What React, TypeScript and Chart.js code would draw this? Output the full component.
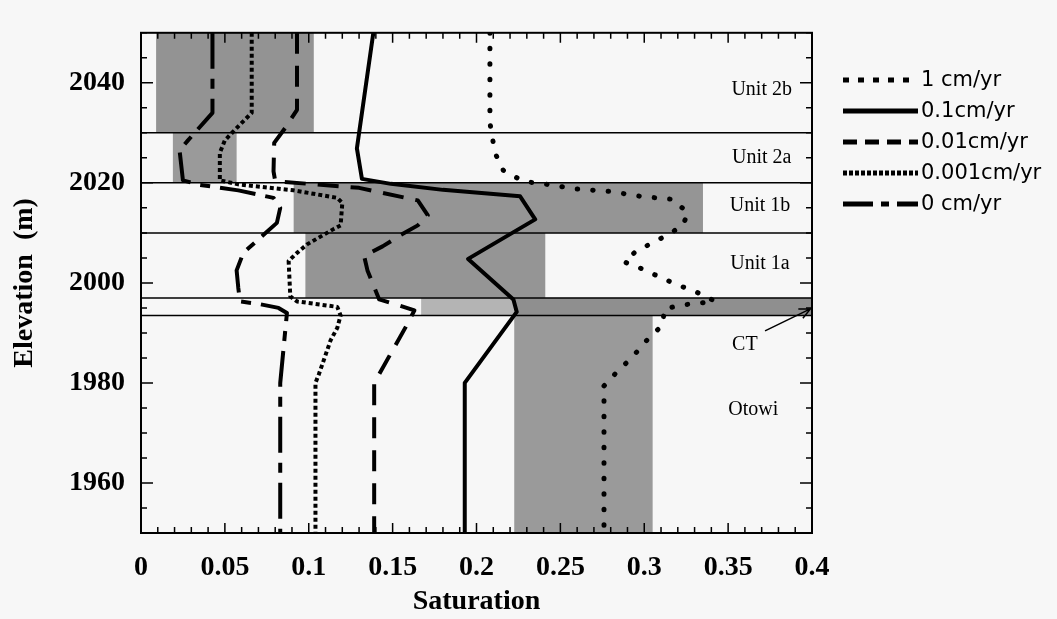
import React, { useEffect, useRef } from 'react';
import { Chart, registerables } from 'chart.js';
Chart.register(...registerables);

// ---------- data ----------
const seriesNames = ['1 cm/yr', '0.1cm/yr', '0.01cm/yr', '0.001cm/yr', '0 cm/yr'];

const sat1 = [0.208, 0.208, 0.211, 0.216, 0.222, 0.23, 0.24, 0.259, 0.279, 0.298, 0.317, 0.326, 0.323, 0.314, 0.303, 0.294, 0.288, 0.298, 0.317, 0.336, 0.342, 0.323, 0.312, 0.311, 0.302, 0.293, 0.284, 0.276, 0.276];
const elev1 = [2050, 2032, 2026, 2022.5, 2021.3, 2020.2, 2019.8, 2018.8, 2018.3, 2017.3, 2016.7, 2014, 2011.5, 2009.6, 2007.7, 2006, 2004.2, 2002.9, 2000, 1997.5, 1996.3, 1995.6, 1994.8, 1991.6, 1988.7, 1985.2, 1982.3, 1979.4, 1950];

const sat2 = [0.1385, 0.1287, 0.1317, 0.149, 0.18, 0.226, 0.235, 0.195, 0.222, 0.224, 0.193, 0.193];
const elev2 = [2050, 2026.9, 2020.8, 2019.8, 2018.6, 2017.3, 2012.7, 2004.8, 1996.7, 1994.2, 1980, 1950];

const sat3 = [0.093, 0.093, 0.086, 0.0794, 0.079, 0.08, 0.085, 0.13, 0.165, 0.171, 0.165, 0.155, 0.144, 0.133, 0.135, 0.138, 0.142, 0.151, 0.163, 0.1585, 0.139, 0.139];
const elev3 = [2050, 2034.6, 2031, 2028, 2022.3, 2020.4, 2020.2, 2019, 2016.5, 2013.5, 2011.5, 2009.6, 2007.3, 2005.4, 2002.5, 2000, 1996.7, 1995.8, 1994.5, 1991.6, 1980, 1950];

const sat4 = [0.066, 0.066, 0.058, 0.05, 0.047, 0.047, 0.058, 0.091, 0.117, 0.12, 0.119, 0.115, 0.099, 0.093, 0.088, 0.089, 0.093, 0.117, 0.119, 0.117, 0.113, 0.109, 0.106, 0.104, 0.104];
const elev4 = [2050, 2034, 2031.3, 2028.5, 2026, 2020.5, 2019.7, 2018.5, 2017, 2016, 2011.5, 2010.8, 2007.7, 2006, 2004.4, 1997.3, 1996.3, 1995.2, 1993.5, 1991, 1988.5, 1984.6, 1981.7, 1980, 1950];

const sat5 = [0.0426, 0.0426, 0.028, 0.023, 0.025, 0.035, 0.058, 0.079, 0.083, 0.081, 0.061, 0.057, 0.058, 0.059, 0.07, 0.082, 0.087, 0.083, 0.083];
const elev5 = [2050, 2034, 2028.5, 2026.5, 2020.5, 2019.6, 2018.5, 2017, 2015, 2012, 2006, 2002.5, 1999, 1996.3, 1995.8, 1995, 1994, 1980, 1950];

// shaded measured-saturation ranges per unit (last one is the lighter part of the CT band)
const bandSatMin = [0.009, 0.019, 0.091, 0.098, 0.2225, 0.2225, 0.167];
const bandSatMax = [0.103, 0.057, 0.335, 0.241, 0.4, 0.305, 0.2225];
const bandElevTop = [2050, 2030, 2020, 2010, 1997, 1993.5, 1997];
const bandElevBottom = [2030, 2020, 2010, 1997, 1993.5, 1950, 1993.5];
const bandShade = ['#939393', '#9a9a9a', '#959595', '#959595', '#8f8f8f', '#9a9a9a', '#b4b4b4'];

const boundaryElev = [2030, 2020, 2010, 1997, 1993.5];

const unitLabels = ['Unit 2b', 'Unit 2a', 'Unit 1b', 'Unit 1a', 'CT', 'Otowi'];
const unitLabelSat = [0.370, 0.370, 0.369, 0.369, 0.360, 0.365];
const unitLabelElev = [2038.7, 2025, 2015.4, 2003.8, 1987.7, 1974.6];
const ctArrowSat = [0.372, 0.399];
const ctArrowElev = [1990.4, 1994.8];

const xTicks = [0, 0.05, 0.1, 0.15, 0.2, 0.25, 0.3, 0.35, 0.4];
const xTickLabels = ['0', '0.05', '0.1', '0.15', '0.2', '0.25', '0.3', '0.35', '0.4'];
const yTicks = [1960, 1980, 2000, 2020, 2040];
const yTickLabels = ['1960', '1980', '2000', '2020', '2040'];

// ---------- styles ----------
const BG = '#f7f7f7';
const dashStyles: number[][] = [[0.5, 15], [], [21, 12], [4, 3], [36, 10, 10, 10]];
const capStyles: CanvasLineCap[] = ['round', 'butt', 'butt', 'butt', 'butt'];
const widths = [5, 4, 4, 4, 4];
const legendDash: number[][] = [[6, 9], [], [14, 8], [4, 2], [30, 8, 8, 8]];

const serifBold = { family: '"Liberation Serif", "Times New Roman", serif', size: 28, weight: 'bold' as const };

const decorPlugin = {
  id: 'decor',
  beforeDraw(chart: any) {
    const ctx = chart.ctx;
    ctx.save();
    ctx.fillStyle = BG;
    ctx.fillRect(0, 0, chart.width, chart.height);
    ctx.restore();
  },
  beforeDatasetsDraw(chart: any) {
    const ctx = chart.ctx;
    const xs = chart.scales.x;
    const ys = chart.scales.y;
    ctx.save();
    for (let i = 0; i < bandSatMin.length; i++) {
      const x0 = xs.getPixelForValue(bandSatMin[i]);
      const x1 = xs.getPixelForValue(bandSatMax[i]);
      const y0 = ys.getPixelForValue(bandElevTop[i]);
      const y1 = ys.getPixelForValue(bandElevBottom[i]);
      ctx.fillStyle = bandShade[i];
      ctx.fillRect(x0, y0, x1 - x0, y1 - y0);
    }
    ctx.strokeStyle = '#000';
    ctx.lineWidth = 1.5;
    const { left, right } = chart.chartArea;
    boundaryElev.forEach((e) => {
      const y = ys.getPixelForValue(e);
      ctx.beginPath();
      ctx.moveTo(left, y);
      ctx.lineTo(right, y);
      ctx.stroke();
    });
    ctx.restore();
  },
  afterDatasetsDraw(chart: any) {
    const ctx = chart.ctx;
    const xs = chart.scales.x;
    const ys = chart.scales.y;
    const { left, right, top, bottom } = chart.chartArea;
    ctx.save();
    // frame
    ctx.strokeStyle = '#000';
    ctx.lineWidth = 2;
    ctx.strokeRect(left, top, right - left, bottom - top);
    // inward ticks
    ctx.lineWidth = 1.5;
    for (let i = 0; i <= 40; i++) {
      const v = i / 100;
      const x = xs.getPixelForValue(v);
      const len = i % 5 === 0 ? 10 : 6;
      ctx.beginPath();
      ctx.moveTo(x, bottom);
      ctx.lineTo(x, bottom - len);
      ctx.moveTo(x, top);
      ctx.lineTo(x, top + len);
      ctx.stroke();
    }
    for (let e = 1950; e <= 2050; e += 5) {
      const y = ys.getPixelForValue(e);
      const len = e % 20 === 0 ? 12 : 6;
      ctx.beginPath();
      ctx.moveTo(left, y);
      ctx.lineTo(left + len, y);
      ctx.moveTo(right, y);
      ctx.lineTo(right - len, y);
      ctx.stroke();
    }
    // unit labels
    ctx.fillStyle = '#000';
    ctx.font = '20px "Liberation Serif", "Times New Roman", serif';
    ctx.textAlign = 'center';
    ctx.textBaseline = 'middle';
    unitLabels.forEach((t, i) => {
      ctx.fillText(t, xs.getPixelForValue(unitLabelSat[i]), ys.getPixelForValue(unitLabelElev[i]));
    });
    // CT arrow
    const ax0 = xs.getPixelForValue(ctArrowSat[0]);
    const ay0 = ys.getPixelForValue(ctArrowElev[0]);
    const ax1 = xs.getPixelForValue(ctArrowSat[1]);
    const ay1 = ys.getPixelForValue(ctArrowElev[1]);
    ctx.lineWidth = 1.5;
    ctx.beginPath();
    ctx.moveTo(ax0, ay0);
    ctx.lineTo(ax1, ay1);
    const ang = Math.atan2(ay1 - ay0, ax1 - ax0);
    const hl = 12;
    ctx.moveTo(ax1 - hl * Math.cos(ang - 0.45), ay1 - hl * Math.sin(ang - 0.45));
    ctx.lineTo(ax1, ay1);
    ctx.lineTo(ax1 - hl * Math.cos(ang + 0.45), ay1 - hl * Math.sin(ang + 0.45));
    ctx.stroke();
    // legend
    const lx0 = 843, lx1 = 918, ly0 = 80, lstep = 31;
    ctx.font = '21px "DejaVu Sans", sans-serif';
    ctx.textAlign = 'left';
    seriesNames.forEach((name, i) => {
      const y = ly0 + i * lstep;
      ctx.save();
      ctx.lineWidth = 5;
      ctx.setLineDash(legendDash[i]);
      ctx.lineCap = 'butt';
      ctx.beginPath();
      ctx.moveTo(lx0, y);
      ctx.lineTo(lx1, y);
      ctx.stroke();
      ctx.restore();
      ctx.fillText(name, lx1 + 3, y + 1);
    });
    ctx.restore();
  },
};

function makeDataset(label: string, xs: number[], ys: number[], i: number) {
  return {
    label,
    data: xs.map((x, k) => ({ x, y: ys[k] })),
    showLine: true,
    borderColor: '#000',
    backgroundColor: '#000',
    borderWidth: widths[i],
    borderDash: dashStyles[i],
    borderCapStyle: capStyles[i],
    borderJoinStyle: 'round' as const,
    pointRadius: 0,
    tension: 0,
    fill: false,
  };
}

export default function App() {
  const ref = useRef<HTMLCanvasElement>(null);
  useEffect(() => {
    document.body.style.margin = '0';
    document.body.style.background = BG;
    const canvas = ref.current!;
    const chart = new Chart(canvas, {
      type: 'scatter',
      data: {
        datasets: [
          makeDataset(seriesNames[0], sat1, elev1, 0),
          makeDataset(seriesNames[1], sat2, elev2, 1),
          makeDataset(seriesNames[2], sat3, elev3, 2),
          makeDataset(seriesNames[3], sat4, elev4, 3),
          makeDataset(seriesNames[4], sat5, elev5, 4),
        ],
      },
      options: {
        responsive: false,
        animation: false,
        devicePixelRatio: 1,
        layout: { padding: { left: 0, right: 245, top: 13, bottom: 0 } },
        plugins: { legend: { display: false }, tooltip: { enabled: false } },
        scales: {
          x: {
            type: 'linear',
            min: 0,
            max: 0.4,
            grid: { display: false, drawTicks: false },
            border: { display: false },
            afterBuildTicks: (s: any) => { s.ticks = xTicks.map((v) => ({ value: v })); },
            afterFit: (s: any) => { s.height = 86; },
            ticks: {
              callback: (_v: any, i: number) => xTickLabels[i],
              font: serifBold,
              color: '#000',
              padding: 18,
              maxRotation: 0,
              autoSkip: false,
            },
            title: { display: true, text: 'Saturation', font: serifBold, color: '#000', padding: { top: 0, bottom: 0 } },
          },
          y: {
            type: 'linear',
            min: 1950,
            max: 2050,
            grid: { display: false, drawTicks: false },
            border: { display: false },
            afterBuildTicks: (s: any) => { s.ticks = yTicks.map((v) => ({ value: v })); },
            afterFit: (s: any) => { s.width = 141; },
            ticks: {
              callback: (_v: any, i: number) => yTickLabels[i],
              font: serifBold,
              color: '#000',
              padding: 16,
              autoSkip: false,
            },
            title: { display: true, text: 'Elevation  (m)', font: serifBold, color: '#000', padding: { top: 8, bottom: 0 } },
          },
        },
      },
      plugins: [decorPlugin],
    } as any);
    return () => chart.destroy();
  }, []);
  return <canvas ref={ref} width={1057} height={619} style={{ display: 'block', width: 1057, height: 619 }} />;
}
